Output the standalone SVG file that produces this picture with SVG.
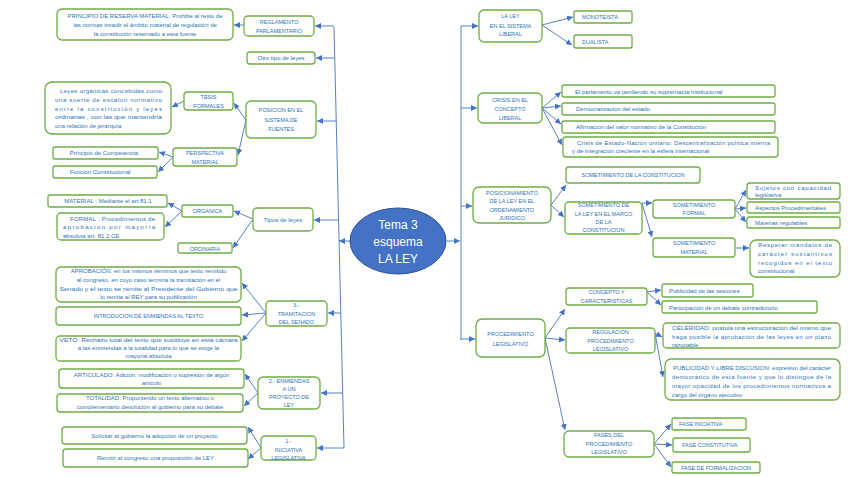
<svg xmlns="http://www.w3.org/2000/svg" width="848" height="477" viewBox="0 0 848 477">
<defs>
<marker id="ah" markerUnits="userSpaceOnUse" markerWidth="6" markerHeight="6" viewBox="0 0 6 6" refX="6" refY="3" orient="auto"><path d="M0,0 L6,3 L0,6 z" fill="#4472C4"/></marker>
<style>
.b{fill:#fff;stroke:#70AD47;stroke-width:1.3}
.t{font-family:"Liberation Sans",Arial,sans-serif;font-size:6px;fill:#2E74B5;text-anchor:middle}
.u{font-family:"Liberation Sans",Arial,sans-serif;font-size:5.5px;fill:#2E74B5;text-anchor:middle}
.l{text-anchor:start}
.c line,.c polyline{stroke:#4472C4;stroke-width:0.9;fill:none}
.c .a{marker-end:url(#ah)}
</style>
</defs>
<rect width="848" height="477" fill="#fff"/>

<g class="c" id="connectors">
<line x1="334" y1="27" x2="344" y2="448"/>
<line class="a" x1="350" y1="241" x2="339" y2="241"/>
<line class="a" x1="334" y1="26" x2="315" y2="26"/>
<line class="a" x1="334.7" y1="58" x2="316" y2="58"/>
<line class="a" x1="336.2" y1="121" x2="317" y2="121"/>
<line class="a" x1="338.6" y1="220" x2="314" y2="220"/>
<line class="a" x1="340.8" y1="313" x2="328" y2="313"/>
<line class="a" x1="342.7" y1="393" x2="321" y2="393"/>
<line class="a" x1="344" y1="448" x2="317" y2="448"/>
<line class="a" x1="244" y1="25" x2="234" y2="25"/>
<line class="a" x1="184" y1="101" x2="172" y2="107"/>
<line class="a" x1="246" y1="120" x2="234" y2="103"/>
<line class="a" x1="246" y1="120" x2="238" y2="155"/>
<line class="a" x1="173" y1="157" x2="159" y2="152"/>
<line class="a" x1="173" y1="157" x2="158" y2="172"/>
<line class="a" x1="253" y1="219" x2="234" y2="211"/>
<line class="a" x1="253" y1="219" x2="233" y2="248"/>
<line class="a" x1="182" y1="211" x2="168" y2="203"/>
<line class="a" x1="182" y1="211" x2="165" y2="227"/>
<line class="a" x1="266" y1="313" x2="242" y2="283"/>
<line class="a" x1="266" y1="313" x2="242" y2="315"/>
<line class="a" x1="266" y1="313" x2="242" y2="341"/>
<line class="a" x1="258" y1="393" x2="245" y2="374"/>
<line class="a" x1="258" y1="393" x2="244" y2="406"/>
<line class="a" x1="261" y1="448" x2="248" y2="427"/>
<line class="a" x1="261" y1="448" x2="248" y2="459"/>

<line x1="461" y1="26" x2="461" y2="340"/>
<line class="a" x1="447" y1="241" x2="460" y2="241"/>
<line class="a" x1="461" y1="26" x2="478" y2="26"/>
<line class="a" x1="461" y1="108" x2="477" y2="108"/>
<line class="a" x1="461" y1="206" x2="472" y2="206"/>
<line class="a" x1="461" y1="339" x2="475" y2="339"/>
<line class="a" x1="542" y1="25" x2="573" y2="17"/>
<line class="a" x1="542" y1="25" x2="572" y2="45"/>
<line class="a" x1="542" y1="108" x2="561" y2="92"/>
<line class="a" x1="542" y1="108" x2="561" y2="106"/>
<line class="a" x1="542" y1="108" x2="561" y2="124"/>
<line class="a" x1="542" y1="108" x2="562" y2="145"/>
<line class="a" x1="551" y1="205" x2="566" y2="185"/>
<line class="a" x1="551" y1="205" x2="564" y2="217"/>
<line class="a" x1="642" y1="203" x2="652" y2="203"/>
<line class="a" x1="642" y1="203" x2="652" y2="237"/>
<line class="a" x1="735" y1="209" x2="746" y2="190"/>
<line class="a" x1="735" y1="209" x2="746" y2="208"/>
<line class="a" x1="735" y1="209" x2="746" y2="222"/>
<line class="a" x1="736" y1="248" x2="749" y2="248"/>
<line class="a" x1="545" y1="338" x2="565" y2="309"/>
<line class="a" x1="545" y1="338" x2="565" y2="340"/>
<line class="a" x1="545" y1="338" x2="565" y2="430"/>
<line class="a" x1="647" y1="292" x2="661" y2="290"/>
<line class="a" x1="647" y1="292" x2="661" y2="305"/>
<line class="a" x1="655" y1="333" x2="662" y2="337"/>
<line class="a" x1="655" y1="333" x2="663" y2="377"/>
<line class="a" x1="654" y1="444" x2="671" y2="424"/>
<line class="a" x1="654" y1="444" x2="672" y2="445"/>
<line class="a" x1="654" y1="444" x2="671" y2="467"/>
</g>

<g id="center">
<ellipse cx="398" cy="241" rx="48" ry="33" fill="#4472C4" stroke="#2F528F" stroke-width="1"/>
<text x="398" y="229" font-family="'Liberation Sans',Arial,sans-serif" font-size="12" fill="#fff" text-anchor="middle">Tema 3</text>
<text x="398" y="246" font-family="'Liberation Sans',Arial,sans-serif" font-size="12" fill="#fff" text-anchor="middle">esquema</text>
<text x="398" y="263" font-family="'Liberation Sans',Arial,sans-serif" font-size="12" fill="#fff" text-anchor="middle">LA LEY</text>
</g>

<g id="n_principio"><rect class="b" x="57" y="9" width="176" height="31" rx="5"/>
<text class="t" x="145" y="18">PRINCIPIO DE RESERVA MATERIAL: Prohibe al resto de</text>
<text class="t" x="145" y="27">las normas invadir el ámbito material de regulación de</text>
<text class="t" x="145" y="36">la constitución reservado a esta fuente</text></g>
<g id="n_reglamento"><rect class="b" x="244" y="16" width="70" height="20" rx="4"/>
<text class="u" x="279" y="24">REGLAMENTO</text><text class="u" x="279" y="32.5">PARLAMENTARIO</text></g>
<g id="n_otro"><rect class="b" x="247" y="52" width="68" height="12" rx="3"/>
<text class="t" x="281" y="60">Otro tipo de leyes</text></g>
<g id="n_leyes_org"><rect class="b" x="45" y="82" width="126" height="52" rx="7"/>
<text class="t l" x="60" y="93" textLength="102">Leyes orgánicas concebidas como</text>
<text class="t l" x="55" y="102" textLength="107">una suerte de escalon normativo</text>
<text class="t l" x="55" y="110.5" textLength="107">entre la constitución y leyes</text>
<text class="t l" x="55" y="119" textLength="107" lengthAdjust="spacingAndGlyphs">ordinarias , con las que mantendría</text>
<text class="t l" x="55" y="128">una relación de jerarquía</text></g>
<g id="n_tesis"><rect class="b" x="184" y="92" width="49" height="18" rx="3"/>
<text class="u" x="208.5" y="99">TESIS</text><text class="u" x="208.5" y="107.5">FORMALES</text></g>
<g id="n_posicion"><rect class="b" x="246" y="101" width="70" height="37" rx="5"/>
<text class="u" x="281" y="112">POSICION EN EL</text><text class="u" x="281" y="122">SISTEMA DE</text><text class="u" x="281" y="131">FUENTES</text></g>
<g id="n_perspectiva"><rect class="b" x="173" y="148" width="64" height="18" rx="3"/>
<text class="u" x="205" y="155">PERSPECTIVA</text><text class="u" x="205" y="164">MATERIAL</text></g>
<g id="n_competencia"><rect class="b" x="53" y="147" width="105" height="12" rx="2"/>
<text class="t" x="104" y="155">Principio de Competencia</text></g>
<g id="n_funcion"><rect class="b" x="53" y="166" width="104" height="12" rx="2"/>
<text class="t" x="100" y="174">Función Constitucional</text></g>
<g id="n_material_org"><rect class="b" x="48" y="195" width="119" height="12" rx="2"/>
<text class="t" x="108" y="203">MATERIAL : Mediante el art 81.1</text></g>
<g id="n_formal_org"><rect class="b" x="57" y="213" width="107" height="27" rx="4"/>
<text class="t l" x="70" y="220.5" textLength="85">FORMAL : Procedimientos de</text>
<text class="t l" x="63" y="229" textLength="92">aprobación por mayoría</text>
<text class="t l" x="63" y="237.5">absoluta art. 81.2 CE</text></g>
<g id="n_organica"><rect class="b" x="182" y="205" width="51" height="12" rx="2"/>
<text class="u" x="207.5" y="213">ORGANICA</text></g>
<g id="n_ordinaria"><rect class="b" x="178" y="243" width="54" height="10" rx="2"/>
<text class="u" x="205" y="250.5">ORDINARIA</text></g>
<g id="n_tipos"><rect class="b" x="253" y="208" width="60" height="23" rx="4"/>
<text class="t" x="283" y="221.5">Tipos de leyes</text></g>
<g id="n_aprobacion"><rect class="b" x="56" y="267" width="185" height="35" rx="5"/>
<text class="t" x="148.5" y="273">APROBACIÓN: en los mismos términos que texto remitido</text>
<text class="t" x="148.5" y="281.5">al congreso, en cuyo caso termina la tramitación en el</text>
<text class="t" x="148.5" y="290.5" textLength="178" lengthAdjust="spacingAndGlyphs">Senado y el texto se remite al Presidente del Gobierno que</text>
<text class="t" x="148.5" y="299">lo remita al REY para su publicación</text></g>
<g id="n_introducion"><rect class="b" x="56" y="307" width="185" height="18" rx="3"/>
<text class="u" x="148.5" y="318">INTRODUCION DE ENMIENDAS AL TEXTO</text></g>
<g id="n_veto"><rect class="b" x="56" y="336" width="185" height="25" rx="4"/>
<text class="t" x="148.5" y="341.5" textLength="178" lengthAdjust="spacingAndGlyphs">VETO: Rechazo total del texto que sustituye en esta cámara</text>
<text class="t" x="148.5" y="349.5">a las enmiendas a la totalidad para lo que se exige la</text>
<text class="t" x="148.5" y="358">mayoría absoluta</text></g>
<g id="n_tramitacion"><rect class="b" x="266" y="301" width="61" height="25" rx="4"/>
<text class="u" x="296.5" y="307">3.-</text><text class="u" x="296.5" y="315.5">TRAMITACION</text><text class="u" x="296.5" y="324">DEL SENADO</text></g>
<g id="n_articulado"><rect class="b" x="59" y="369" width="185" height="19" rx="3"/>
<text class="t" x="151.5" y="376.5">ARTICULADO: Adición, modificación o supresión de algún</text>
<text class="t" x="151.5" y="385">artículo</text></g>
<g id="n_totalidad"><rect class="b" x="57" y="394" width="186" height="18" rx="3"/>
<text class="t" x="150" y="400">TOTALIDAD: Proponiendo un texto alternativo o</text>
<text class="t" x="150" y="409">complementario devolución al gobierno para su debate</text></g>
<g id="n_enmiendas"><rect class="b" x="258" y="377" width="62" height="32" rx="5"/>
<text class="u" x="289" y="382.5">2.- ENMIENDAS</text><text class="u" x="289" y="391">A UN</text><text class="u" x="289" y="399">PROYECTO DE</text><text class="u" x="289" y="407">LEY</text></g>
<g id="n_solicitar"><rect class="b" x="62" y="427" width="185" height="17" rx="3"/>
<text class="t" x="154.5" y="437.5">Solicitar al gobierno la adopción de un proyecto</text></g>
<g id="n_remitir"><rect class="b" x="63" y="449" width="185" height="18" rx="3"/>
<text class="t" x="155.5" y="460">Remitir al congreso una proposición de LEY</text></g>
<g id="n_iniciativa"><rect class="b" x="261" y="436" width="55" height="24" rx="4"/>
<text class="u" x="288.5" y="443">1.-</text><text class="u" x="288.5" y="451.5">INICIATIVA</text><text class="u" x="288.5" y="459.5">LEGISLATIVA</text></g>

<g id="n_sistema_liberal"><rect class="b" x="479" y="10" width="63" height="32" rx="5"/>
<text class="u" x="510.5" y="18">LA LEY</text><text class="u" x="510.5" y="28">EN EL SISTEMA</text><text class="u" x="510.5" y="36">LIBERAL</text></g>
<g id="n_monoteista"><rect class="b" x="574" y="11" width="58" height="12" rx="2"/>
<text class="u l" x="582" y="19">MONOTEISTA</text></g>
<g id="n_dualista"><rect class="b" x="574" y="35" width="58" height="13" rx="2"/>
<text class="u l" x="582" y="44">DUALISTA</text></g>
<g id="n_crisis"><rect class="b" x="478" y="93" width="64" height="30" rx="5"/>
<text class="u" x="510" y="102">CRISIS EN EL</text><text class="u" x="510" y="110.5">CONCEPTO</text><text class="u" x="510" y="119.5">LIBERAL</text></g>
<g id="n_parlamento"><rect class="b" x="562" y="85" width="213" height="12" rx="2"/>
<text class="t l" x="575" y="93.5">El parlamento va perdiendo su supremacía institucional</text></g>
<g id="n_democ"><rect class="b" x="562" y="103" width="213" height="12" rx="2"/>
<text class="t l" x="576" y="111">Democratización del estado</text></g>
<g id="n_afirm"><rect class="b" x="562" y="121" width="213" height="12" rx="2"/>
<text class="t l" x="576" y="129">Afirmación del valor normativo de la Constitución</text></g>
<g id="n_crisis_estado"><rect class="b" x="563" y="137" width="215" height="20" rx="3"/>
<text class="t l" x="577" y="144.5" textLength="193">Crisis de Estado-Nación unitario: Descentralización política interna</text>
<text class="t l" x="572" y="153">y de integración creciente en la esfera internacional</text></g>
<g id="n_posicionamiento"><rect class="b" x="473" y="187" width="78" height="36" rx="6"/>
<text class="u" x="512" y="194.5">POSICIONAMIENTO</text><text class="u" x="512" y="203">DE LA LEY EN EL</text><text class="u" x="512" y="211.5">ORDENAMIENTO</text><text class="u" x="512" y="219.5">JURIDICO</text></g>
<g id="n_som_const"><rect class="b" x="566" y="167" width="134" height="16" rx="3"/>
<text class="u" x="633" y="177">SOMETIMIENTO DE LA CONSTITUCION</text></g>
<g id="n_som_ley"><rect class="b" x="565" y="202" width="77" height="32" rx="4"/>
<text class="u" x="603.5" y="206.5">SOMETIMIENTO DE</text><text class="u" x="603.5" y="215.5">LA LEY EN EL MARCO</text><text class="u" x="603.5" y="224">DE LA</text><text class="u" x="603.5" y="232">CONSTITUCION</text></g>
<g id="n_som_formal"><rect class="b" x="653" y="200" width="82" height="18" rx="3"/>
<text class="u" x="694" y="206.5">SOMETIMIENTO</text><text class="u" x="694" y="215">FORMAL</text></g>
<g id="n_som_material"><rect class="b" x="653" y="238" width="82" height="19" rx="3"/>
<text class="u" x="694" y="244.5">SOMETIMIENTO</text><text class="u" x="694" y="253.5">MATERIAL</text></g>
<g id="n_sujetos"><rect class="b" x="747" y="183" width="93" height="16" rx="3"/>
<text class="t l" x="755" y="189.5" textLength="76">Sujetos con capacidad</text>
<text class="t l" x="755" y="197">legislativa</text></g>
<g id="n_aspectos"><rect class="b" x="747" y="202" width="93" height="11" rx="2"/>
<text class="t l" x="755" y="210">Aspectos Procedimentales</text></g>
<g id="n_materias"><rect class="b" x="747" y="217" width="93" height="11" rx="2"/>
<text class="t l" x="755" y="225">Materias regulables</text></g>
<g id="n_respetar"><rect class="b" x="750" y="240" width="90" height="37" rx="6"/>
<text class="t l" x="758" y="246.5" textLength="74">Respetar mandatos de</text>
<text class="t l" x="758" y="255.5" textLength="74">carácter sustantivos</text>
<text class="t l" x="758" y="264.5" textLength="74">recogidos en el texto</text>
<text class="t l" x="758" y="273">constitucional</text></g>
<g id="n_procedimiento"><rect class="b" x="476" y="319" width="69" height="38" rx="6"/>
<text class="u" x="510.5" y="336">PROCEDIMIENTO</text><text class="u" x="510.5" y="345.5">LEGISLATIVO</text></g>
<g id="n_concepto"><rect class="b" x="566" y="288" width="81" height="17" rx="3"/>
<text class="u" x="606.5" y="294">CONCEPTO Y</text><text class="u" x="606.5" y="302.5">CARACTERISTICAS</text></g>
<g id="n_publicidad_ses"><rect class="b" x="662" y="284" width="91" height="13" rx="2"/>
<text class="t l" x="669" y="292.5">Publicidad de las sesiones</text></g>
<g id="n_participacion"><rect class="b" x="662" y="301" width="155" height="12" rx="2"/>
<text class="t l" x="669" y="309.5">Participación de un debate contradictorio</text></g>
<g id="n_regulacion"><rect class="b" x="566" y="328" width="89" height="25" rx="4"/>
<text class="u" x="610.5" y="334">REGULACION</text><text class="u" x="610.5" y="342.5">PROCEDIMIENTO</text><text class="u" x="610.5" y="350.5">LEGISLATIVO</text></g>
<g id="n_celeridad"><rect class="b" x="663" y="323" width="177" height="25" rx="4"/>
<text class="t l" x="672" y="330" textLength="159" lengthAdjust="spacingAndGlyphs">CELERIDAD: postula una estructuración del mismo que</text>
<text class="t l" x="672" y="339" textLength="159">haga posible la aprobación de las leyes en un plazo</text>
<text class="t l" x="672" y="347">razonable</text></g>
<g id="n_publicidad_libre"><rect class="b" x="665" y="359" width="175" height="41" rx="6"/>
<text class="t l" x="673" y="370" textLength="158" lengthAdjust="spacingAndGlyphs">PUBLICIDAD Y LIBRE DISCUSION: expresivo del carácter</text>
<text class="t l" x="672" y="379" textLength="159">democrático de esta fuente y que lo distingue de la</text>
<text class="t l" x="672" y="388" textLength="159">mayor opacidad de los procedimientos normativos a</text>
<text class="t l" x="672" y="396.5">cargo del órgano ejecutivo</text></g>
<g id="n_fases"><rect class="b" x="564" y="431" width="90" height="26" rx="5"/>
<text class="u" x="609" y="437">FASES DEL</text><text class="u" x="609" y="445.5">PROCEDIMIENTO</text><text class="u" x="609" y="454">LEGISLATIVO</text></g>
<g id="n_fase_inic"><rect class="b" x="672" y="418" width="74" height="12" rx="2"/>
<text class="u l" x="679" y="426">FASE INICIATIVA</text></g>
<g id="n_fase_const"><rect class="b" x="673" y="438" width="77" height="14" rx="2"/>
<text class="u l" x="682" y="447">FASE CONSTITUTIVA</text></g>
<g id="n_fase_form"><rect class="b" x="672" y="462" width="88" height="11" rx="2"/>
<text class="u l" x="681" y="469.5">FASE DE FORMALIZACION</text></g>
</svg>
